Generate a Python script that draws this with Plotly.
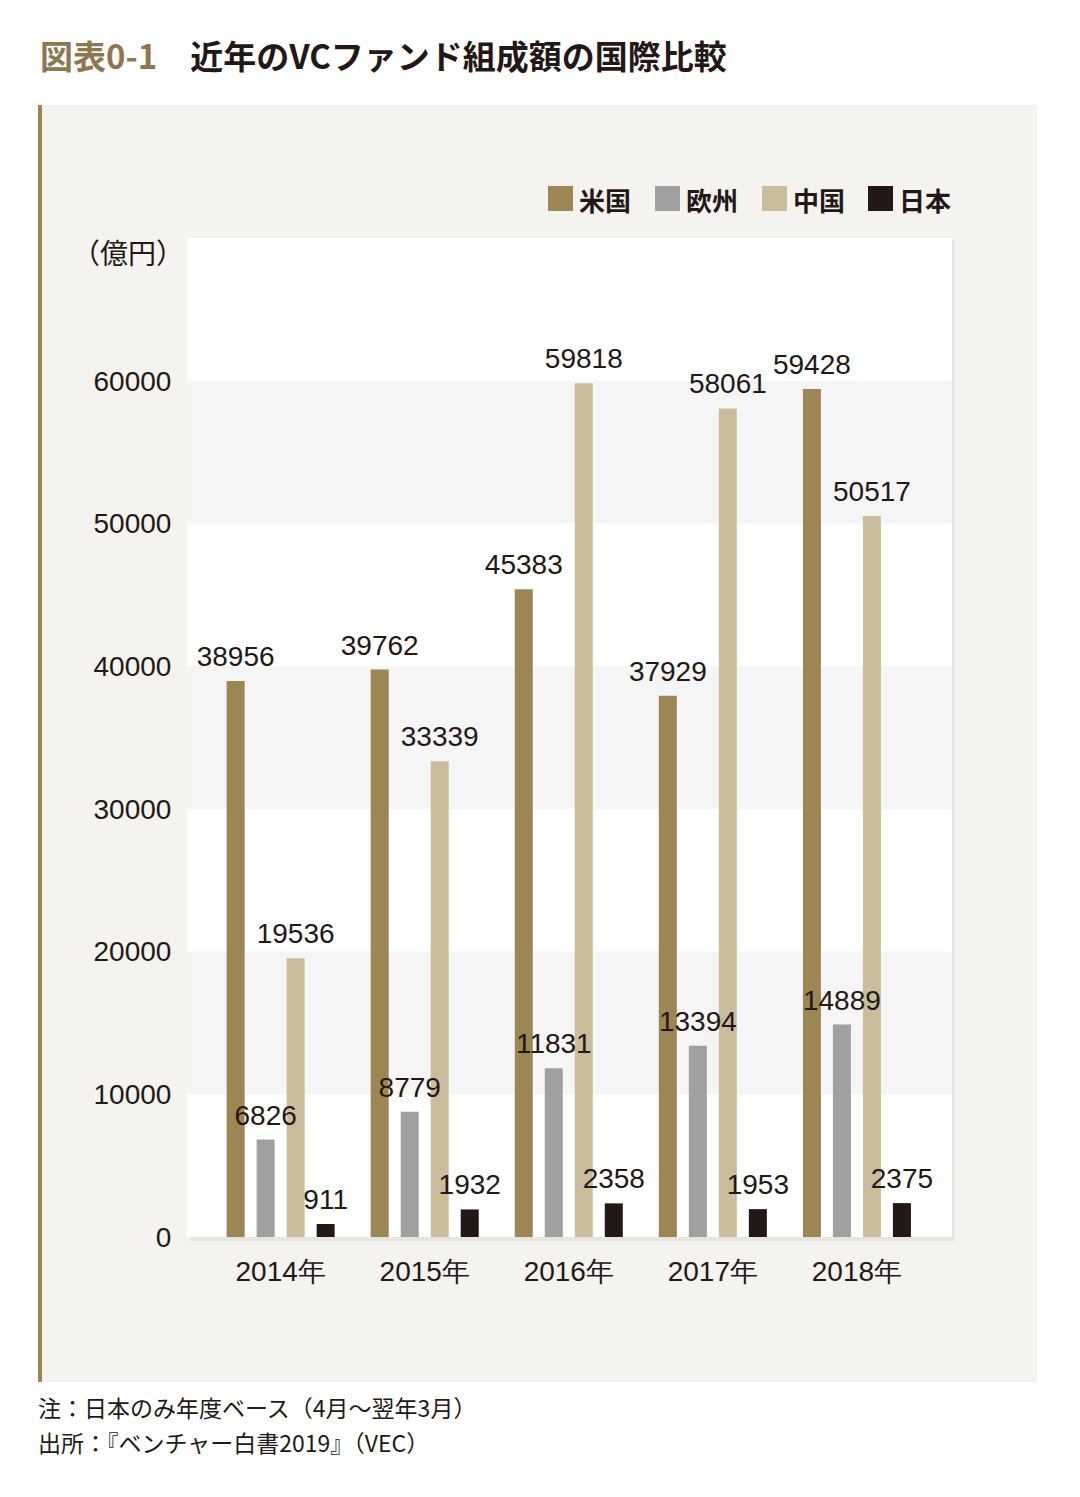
import plotly.graph_objects as go

# ---- data ----
years = ["2014年", "2015年", "2016年", "2017年", "2018年"]
series_names = ["米国", "欧州", "中国", "日本"]
us_vals = [38956, 39762, 45383, 37929, 59428]
eu_vals = [6826, 8779, 11831, 13394, 14889]
cn_vals = [19536, 33339, 59818, 58061, 50517]
jp_vals = [911, 1932, 2358, 1953, 2375]
y_ticks = [0, 10000, 20000, 30000, 40000, 50000, 60000]

colors = ["#9c8654", "#a0a0a0", "#c9bd9b", "#231815"]
all_vals = [us_vals, eu_vals, cn_vals, jp_vals]

OFF = 8  # page body margin
W, H = 1080, 1497
L, R, T, B = 187 - OFF, 952 - OFF, 238 - OFF, 1237 - OFF  # plot area in px (figure coords)
Y_MAX = 70000
LABEL_PAD = 6 * Y_MAX / (B - T)  # extra 6px gap between bar top and its label


def px(x):
    return (x - OFF - L) / (R - L)


def py(y):
    return (B - (y - OFF)) / (B - T)


LABEL_FONT = "Liberation Sans, Arial, Helvetica, sans-serif"
CJK_FONT = "Noto Sans CJK JP, Noto Sans, sans-serif"

fig = go.Figure()
for i, (name, vals, col) in enumerate(zip(series_names, all_vals, colors)):
    fig.add_trace(go.Bar(
        x=years, y=vals, name=name, offsetgroup=str(i),
        marker=dict(color=col, line=dict(width=0)),
        showlegend=False, hoverinfo="skip",
    ))
# value labels drawn on top of all bars
for i, (name, vals) in enumerate(zip(series_names, all_vals)):
    fig.add_trace(go.Bar(
        x=years, y=[v + LABEL_PAD for v in vals], name=name + " label", offsetgroup=str(i),
        marker=dict(color="rgba(0,0,0,0)", line=dict(width=0)),
        text=[str(v) for v in vals],
        textposition="outside",
        textfont=dict(size=28, color="#231815", family=LABEL_FONT),
        constraintext="none",
        cliponaxis=False,
        showlegend=False, hoverinfo="skip",
    ))

shapes = []
shapes.append(dict(type="rect", xref="paper", yref="paper",
                   x0=px(38), x1=px(1037), y0=py(1382), y1=py(105),
                   fillcolor="#f4f3ef", line=dict(width=0), layer="below"))
shapes.append(dict(type="rect", xref="paper", yref="paper",
                   x0=px(38), x1=px(42), y0=py(1382), y1=py(105),
                   fillcolor="#9c8654", line=dict(width=0), layer="below"))
shapes.append(dict(type="rect", xref="paper", yref="paper",
                   x0=px(190), x1=px(955), y0=py(1241), y1=py(240),
                   fillcolor="#e6e5e1", line=dict(width=0), layer="below"))
shapes.append(dict(type="rect", xref="paper", yref="paper",
                   x0=0, x1=1, y0=0, y1=1,
                   fillcolor="#ffffff", line=dict(width=0), layer="below"))
for i in range(1, len(y_ticks) - 1, 2):
    shapes.append(dict(type="rect", xref="paper", yref="y",
                       x0=0, x1=1, y0=y_ticks[i], y1=y_ticks[i + 1],
                       fillcolor="#f5f5f5", line=dict(width=0), layer="below"))

annotations = []
annotations.append(dict(
    xref="paper", yref="paper", x=px(38), y=py(55), xanchor="left", yanchor="middle",
    text="<b><span style='color:#8c7750'>図表0-1</span>　近年のVCファンド組成額の国際比較</b>",
    showarrow=False, font=dict(size=33, color="#231815", family=CJK_FONT)))
annotations.append(dict(
    xref="paper", yref="paper", x=px(186), y=py(252), xanchor="right", yanchor="middle",
    text="（億円）", showarrow=False,
    font=dict(size=28, color="#231815", family=CJK_FONT)))
annotations.append(dict(
    xref="paper", yref="paper", x=px(36), y=py(1407), xanchor="left", yanchor="middle",
    text="注：日本のみ年度ベース（4月～翌年3月）", showarrow=False,
    font=dict(size=23, color="#231815", family=CJK_FONT)))
annotations.append(dict(
    xref="paper", yref="paper", x=px(36), y=py(1442), xanchor="left", yanchor="middle",
    text="出所：『ベンチャー白書2019』（VEC）", showarrow=False,
    font=dict(size=23, color="#231815", family=CJK_FONT)))

leg_x = [548, 655, 762, 868]
for name, col, lx in zip(series_names, colors, leg_x):
    shapes.append(dict(type="rect", xref="paper", yref="paper",
                       x0=px(lx), x1=px(lx + 25), y0=py(211), y1=py(186),
                       fillcolor=col, line=dict(width=0), layer="above"))
    annotations.append(dict(
        xref="paper", yref="paper", x=px(lx + 29), y=py(199), xanchor="left", yanchor="middle",
        text="<b>" + name + "</b>", showarrow=False,
        font=dict(size=26, color="#231815", family=CJK_FONT)))

fig.update_layout(
    width=W, height=H,
    margin=dict(l=L, r=W - R, t=T, b=H - B, pad=0),
    paper_bgcolor="#ffffff",
    plot_bgcolor="rgba(0,0,0,0)",
    barmode="group",
    bargap=0.167,
    bargroupgap=0.4,
    shapes=shapes,
    annotations=annotations,
    showlegend=False,
    xaxis=dict(
        type="category", range=[-0.65, 4.66],
        showgrid=False, zeroline=False, showline=False,
        ticks="outside", ticklen=9, tickcolor="rgba(0,0,0,0)",
        tickfont=dict(size=28, color="#231815", family=LABEL_FONT),
    ),
    yaxis=dict(
        range=[0, Y_MAX], tickvals=y_ticks, ticktext=[str(v) for v in y_ticks],
        showgrid=False, zeroline=False, showline=False,
        ticks="outside", ticklen=9, tickcolor="rgba(0,0,0,0)",
        tickfont=dict(size=28, color="#231815", family=LABEL_FONT),
    ),
)

fig.write_html("out.html")
